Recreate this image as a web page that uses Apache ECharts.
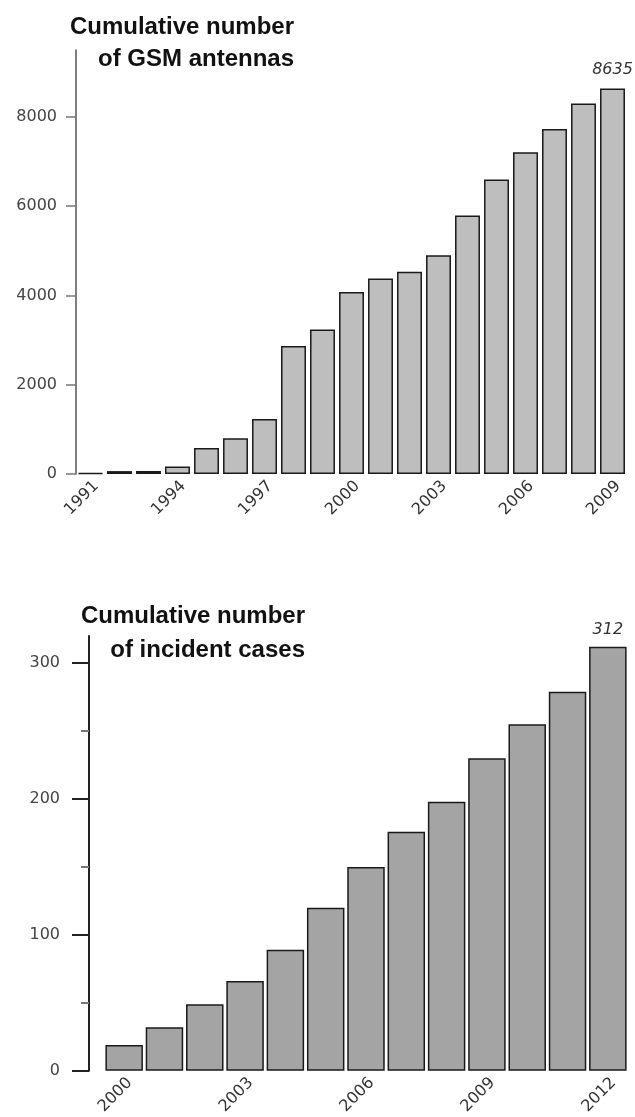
<!DOCTYPE html>
<html>
<head>
<meta charset="utf-8">
<title>Cumulative GSM antennas and incident cases</title>
<script src="https://cdn.jsdelivr.net/npm/echarts@6/dist/echarts.min.js"></script>
<style>
    html, body { margin: 0; padding: 0; background: #fff; }
    #chart { width: 635px; height: 1117px; }
</style>
</head>
<body>
<div id="chart"></div>
<script>
// top panel: GSM antennas
var yearsTop = ['1991', '1992', '1993', '1994', '1995', '1996', '1997', '1998', '1999', '2000',
    '2001', '2002', '2003', '2004', '2005', '2006', '2007', '2008', '2009'];
var antennas = [20, 65, 70, 170, 580, 800, 1230, 2870, 3240, 4080,
    4380, 4530, 4900, 5790, 6600, 7210, 7730, 8300, 8635];
var ticksTop = [0, 2000, 4000, 6000, 8000];

// bottom panel: incident cases
var yearsBottom = ['2000', '2001', '2002', '2003', '2004', '2005', '2006', '2007', '2008', '2009',
    '2010', '2011', '2012'];
var cases = [19, 32, 49, 66, 89, 120, 150, 176, 198, 230, 255, 279, 312];
var ticksBottom = [0, 100, 200, 300];
var minorTicksBottom = [50, 150, 250];

var labelFont = 'DejaVu Sans';
var titleFont = 'Liberation Sans';

// only the last bar gets its value written on top
function lastLabelled(values) {
    return values.map(function(v, i) {
        return i === values.length - 1 ? { value: v, label: { show: true } } : v;
    });
}

// plain numbers, no thousands separator
function plain(v) {
    return String(v);
}

function xAxisFor(gridIndex, years) {
    return {
        gridIndex: gridIndex,
        type: 'category',
        data: years,
        axisLine: { show: false },
        axisTick: { show: false },
        axisLabel: {
            interval: 2,
            rotate: 45,
            margin: 4,
            verticalAlign: 'top',
            fontFamily: labelFont,
            fontSize: 16,
            color: '#333'
        }
    };
}

var chart = echarts.init(document.getElementById('chart'), null, { renderer: 'canvas' });

var option = {
    backgroundColor: '#ffffff',
    animation: false,
    title: [{
        text: 'Cumulative number\nof GSM antennas',
        left: 294,
        top: 11,
        padding: 0,
        textAlign: 'right',
        textStyle: { fontFamily: titleFont, fontWeight: 'bold', fontSize: 24, lineHeight: 32, color: '#111' }
    }, {
        text: 'Cumulative number\nof incident cases',
        left: 305,
        top: 599,
        padding: 0,
        textAlign: 'right',
        textStyle: { fontFamily: titleFont, fontWeight: 'bold', fontSize: 24, lineHeight: 34, color: '#111' }
    }],
    grid: [
        { left: 76, top: 50, width: 551, height: 424 },
        { left: 104, top: 636, width: 524, height: 437 }
    ],
    xAxis: [xAxisFor(0, yearsTop), xAxisFor(1, yearsBottom)],
    yAxis: [{
        gridIndex: 0,
        type: 'value',
        min: 0,
        max: 9500,
        splitLine: { show: false },
        axisLine: { show: true, lineStyle: { color: '#555', width: 1.5 } },
        axisTick: { show: true, length: 10, customValues: ticksTop, lineStyle: { color: '#777', width: 1.5 } },
        axisLabel: { customValues: ticksTop, formatter: plain, margin: 19, fontFamily: labelFont, fontSize: 16, color: '#444' }
    }, {
        gridIndex: 1,
        type: 'value',
        min: 0,
        max: 320,
        offset: 15,
        splitLine: { show: false },
        axisLine: { show: true, lineStyle: { color: '#222', width: 2 } },
        axisTick: { show: true, length: 17, customValues: ticksBottom, lineStyle: { color: '#222', width: 2 } },
        axisLabel: { customValues: ticksBottom, formatter: plain, margin: 29, fontFamily: labelFont, fontSize: 16, color: '#444' }
    }, {
        // minor ticks of the lower panel
        gridIndex: 1,
        type: 'value',
        min: 0,
        max: 320,
        offset: 15,
        position: 'left',
        splitLine: { show: false },
        axisLine: { show: false },
        axisTick: { show: true, length: 8, customValues: minorTicksBottom, lineStyle: { color: '#777', width: 2 } },
        axisLabel: { show: false }
    }],
    series: [{
        type: 'bar',
        xAxisIndex: 0,
        yAxisIndex: 0,
        data: lastLabelled(antennas),
        barCategoryGap: '14%',
        itemStyle: { color: '#bebebe', borderColor: '#1a1a1a', borderWidth: 1.5 },
        label: { show: false, position: 'top', distance: 11, fontFamily: labelFont, fontStyle: 'italic', fontSize: 16, color: '#333' }
    }, {
        type: 'bar',
        xAxisIndex: 1,
        yAxisIndex: 1,
        data: lastLabelled(cases),
        barCategoryGap: '7%',
        itemStyle: { color: '#a4a4a4', borderColor: '#1a1a1a', borderWidth: 1.5 },
        label: { show: false, position: 'top', distance: 9, fontFamily: labelFont, fontStyle: 'italic', fontSize: 16, color: '#333' }
    }]
};

chart.setOption(option);
</script>
</body>
</html>
